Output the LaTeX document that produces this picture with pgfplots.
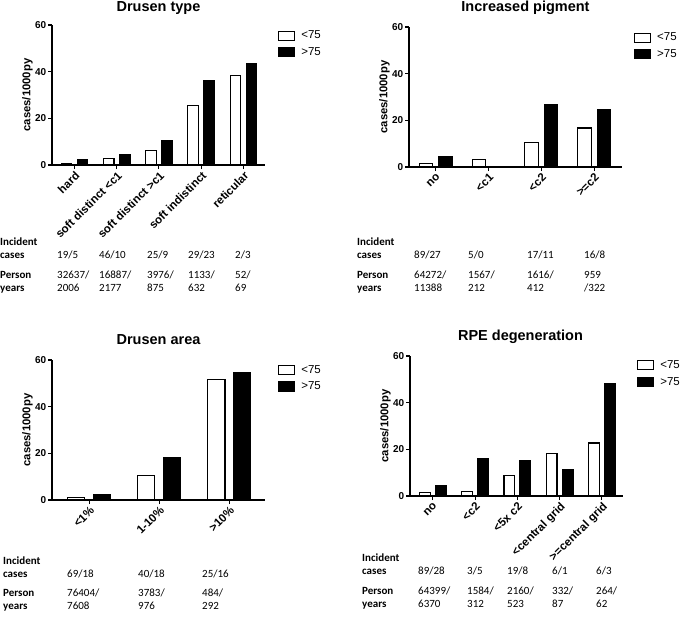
\documentclass[border=0pt]{standalone}
\usepackage{fontspec}
\setmainfont{Liberation Sans}
\newfontfamily\tabfont{Carlito}
\usepackage{pgfplots}
\usepackage{pgfplotstable}
\pgfplotsset{compat=1.18}

\pgfplotstableread{
x young old
0 0.58 2.5
1 2.72 4.59
2 6.29 10.29
3 25.6 36.4
4 38.5 43.5
}\drusentype

\pgfplotstableread{
x young old
0 1.38 4.4
1 3.19 0
2 10.5 26.7
3 16.7 24.8
}\pigment

\pgfplotstableread{
x young old
0 0.9 2.5
1 10.6 18.4
2 51.7 54.8
}\drusenarea

\pgfplotstableread{
x young old
0 1.38 4.4
1 1.89 16.0
2 8.8 15.3
3 18.1 11.5
4 22.7 48.4
}\rpe

\pgfplotsset{
  boxlegend/.style={legend image code/.code={\draw[##1, line width=1.1pt] (0pt,-4.5pt) rectangle (16pt,4.5pt);}},
  panel/.style={
    scale only axis, width=213pt, height=140pt,
    anchor=south west,
    ymin=0, ymax=60, ytick={0,20,40,60},
    axis x line*=bottom, axis y line*=left,
    axis line style={line width=1.1pt, -},
    tick align=outside, major tick length=4pt,
    tick style={line width=1.1pt, black},
    xtick=data,
    /pgf/number format/assume math mode=true,
    y tick label style={font=\bfseries\fontsize{10}{11}\selectfont, inner sep=1.5pt},
    x tick label style={rotate=45, anchor=north east, font=\bfseries\fontsize{11.5}{12}\selectfont, inner sep=1pt},
    ylabel={cases/1000py},
    ylabel style={at={(axis description cs:-0.115,0.5)}, anchor=center, font=\bfseries\fontsize{11.3}{12}\selectfont},
    title style={at={(axis description cs:0.5,1)}, anchor=base, yshift=9.5pt, inner sep=0pt, font=\bfseries\fontsize{14.5}{16}\selectfont},
    every axis plot/.append style={draw=black, line width=1.1pt},
    legend style={anchor=north west, draw=none, fill=none, inner sep=0pt,
      font=\fontsize{11.5}{12}\selectfont, row sep=4pt,
      nodes={inner sep=1pt, text height=8.5pt, text depth=2pt},
      /tikz/every odd column/.append style={column sep=5pt}},
    legend cell align=left,
  }
}

\begin{document}
\begin{tikzpicture}
\path[use as bounding box] (0,0) rectangle (680pt,-624pt);

% Panel 1: Drusen type
\begin{axis}[panel, at={(52pt,-165pt)}, xmin=-0.53, xmax=4.51,
  ybar=5.4pt, bar width=10.6pt, title={Drusen type},
  title style={yshift=-2pt},
  xticklabels={hard, soft distinct <c1, soft distinct >c1, soft indistinct, reticular},
  legend style={at={(axis description cs:1.061,0.97)}}]
\addplot[fill=white, boxlegend] table[x=x,y=young]{\drusentype};
\addplot[fill=black, boxlegend] table[x=x,y=old]{\drusentype};
\legend{<75,>75}
\end{axis}

% Panel 2: Increased pigment
\begin{axis}[panel, at={(409pt,-167pt)}, xmin=-0.51, xmax=3.53,
  ybar=6pt, bar width=13.5pt, title={Increased pigment},
  title style={xshift=10pt},
  xticklabels={no, <c1, <c2, >=c2},
  legend style={at={(axis description cs:1.056,0.97)}}]
\addplot[fill=white, boxlegend] table[x=x,y=young]{\pigment};
\addplot[fill=black, boxlegend] table[x=x,y=old]{\pigment};
\legend{<75,>75}
\end{axis}

% Panel 3: Drusen area
\begin{axis}[panel, at={(52pt,-500pt)}, xmin=-0.53, xmax=2.51,
  ybar=8.6pt, bar width=17.2pt, title={Drusen area},
  xticklabels={<1\%, 1-10\%, >10\%},
  legend style={at={(axis description cs:1.061,0.975)}}]
\addplot[fill=white, boxlegend] table[x=x,y=young]{\drusenarea};
\addplot[fill=black, boxlegend] table[x=x,y=old]{\drusenarea};
\legend{<75,>75}
\end{axis}

% Panel 4: RPE degeneration
\begin{axis}[panel, at={(410pt,-496pt)}, xmin=-0.54, xmax=4.5,
  ybar=5.3pt, bar width=10.7pt, title={RPE degeneration},
  title style={xshift=4pt},
  xticklabels={no, <c2, <5x c2, <central grid, >=central grid},
  legend style={at={(axis description cs:1.066,0.98)}}]
\addplot[fill=white, boxlegend] table[x=x,y=young]{\rpe};
\addplot[fill=black, boxlegend] table[x=x,y=old]{\rpe};
\legend{<75,>75}
\end{axis}

% Tables
\begin{scope}[every node/.style={anchor=base west, inner sep=0pt, align=left,
    font=\tabfont\fontsize{11}{12.5}\selectfont}]
% Panel 1
\node at (0pt,-258pt) {\bfseries Incident\\\bfseries cases};
\node at (0pt,-291pt) {\bfseries Person\\\bfseries years};
\node at (57pt,-258pt) {19/5};
\node at (99pt,-258pt) {46/10};
\node at (147pt,-258pt) {25/9};
\node at (188pt,-258pt) {29/23};
\node at (235pt,-258pt) {2/3};
\node at (57pt,-291pt) {32637/\\2006};
\node at (99pt,-291pt) {16887/\\2177};
\node at (147pt,-291pt) {3976/\\875};
\node at (188pt,-291pt) {1133/\\632};
\node at (235pt,-291pt) {52/\\69};
% Panel 2
\node at (357pt,-258pt) {\bfseries Incident\\\bfseries cases};
\node at (357pt,-291pt) {\bfseries Person\\\bfseries years};
\node at (414pt,-258pt) {89/27};
\node at (468pt,-258pt) {5/0};
\node at (527pt,-258pt) {17/11};
\node at (584pt,-258pt) {16/8};
\node at (414pt,-291pt) {64272/\\11388};
\node at (468pt,-291pt) {1567/\\212};
\node at (527pt,-291pt) {1616/\\412};
\node at (584pt,-291pt) {959\\/322};
% Panel 3
\node at (3pt,-577pt) {\bfseries Incident\\\bfseries cases};
\node at (3pt,-609pt) {\bfseries Person\\\bfseries years};
\node at (67pt,-577pt) {69/18};
\node at (138pt,-577pt) {40/18};
\node at (202pt,-577pt) {25/16};
\node at (67pt,-609pt) {76404/\\7608};
\node at (138pt,-609pt) {3783/\\976};
\node at (202pt,-609pt) {484/\\292};
% Panel 4
\node at (362pt,-574pt) {\bfseries Incident\\\bfseries cases};
\node at (362pt,-607pt) {\bfseries Person\\\bfseries years};
\node at (418pt,-574pt) {89/28};
\node at (467pt,-574pt) {3/5};
\node at (507pt,-574pt) {19/8};
\node at (552pt,-574pt) {6/1};
\node at (596pt,-574pt) {6/3};
\node at (418pt,-607pt) {64399/\\6370};
\node at (467pt,-607pt) {1584/\\312};
\node at (507pt,-607pt) {2160/\\523};
\node at (552pt,-607pt) {332/\\87};
\node at (596pt,-607pt) {264/\\62};
\end{scope}
\end{tikzpicture}
\end{document}
